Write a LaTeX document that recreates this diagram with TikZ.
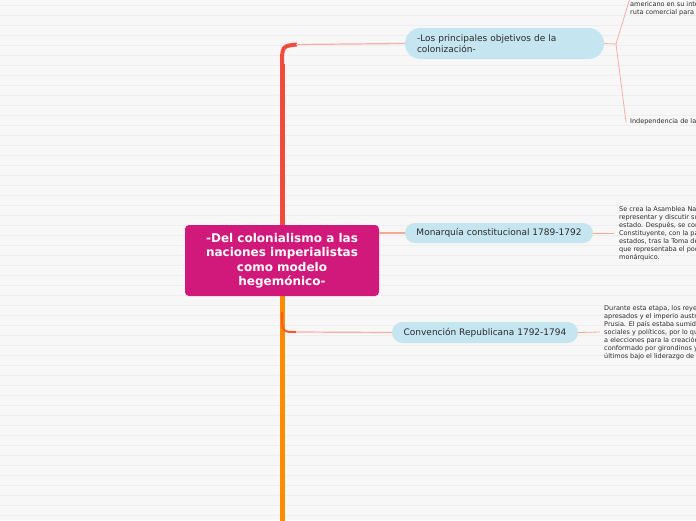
\documentclass[tikz,border=0pt]{standalone}
\usepackage{fontspec}
\setmainfont{DejaVu Sans}
\setsansfont{DejaVu Sans}
\definecolor{bgc}{HTML}{F7F7F7}
\definecolor{stripe}{HTML}{EEEEEE}
\definecolor{central}{HTML}{D1197B}
\definecolor{topicblue}{HTML}{C5E5F0}
\definecolor{trunkred}{HTML}{F04B3C}
\definecolor{trunkorange}{HTML}{FF8C00}
\definecolor{thinpink}{HTML}{F5AFA8}
\definecolor{salmon}{HTML}{F6A98E}
\definecolor{txt}{HTML}{2B2B2B}
\tikzset{
  centralbox/.style={fill=central, rounded corners=4pt, minimum width=194pt, minimum height=71pt,
    text=white, font=\fontsize{12}{14.5}\selectfont\bfseries, align=center, inner sep=0pt},
  topicbox/.style={fill=topicblue, text=txt, font=\fontsize{9}{11}\selectfont, inner sep=0pt},
  smalltext/.style={text=txt, font=\fontsize{6.5}{8}\selectfont, align=left, inner sep=0pt},
  thinline/.style={draw=thinpink, line width=1.2pt},
  salmonline/.style={draw=salmon, line width=1.2pt}
}
\begin{document}
\begin{tikzpicture}[x=1pt,y=-1pt]
\useasboundingbox (0,0) rectangle (696,520);
\clip (0,0) rectangle (696,520);
\fill[bgc] (0,0) rectangle (696,520);
\foreach \k in {0,...,51} {
  \draw[stripe, line width=0.7pt] (0,5+10*\k) -- (696,5+10*\k);
}
% trunk
\draw[trunkorange, line width=5pt] (282,285) -- (282,522);
\draw[trunkred, line width=5pt] (282,240) -- (282,64);
\draw[trunkred, line width=4pt] (282,66) .. controls (282,46) .. (297,44.5);
\draw[trunkred!70!orange, line width=2pt] (282,312) .. controls (282,332) .. (296,332);
% nodes
\node[centralbox] (c) at (282,260.5) {-Del colonialismo a las\\naciones imperialistas\\como modelo\\hegemónico-};
\node[topicbox, minimum width=199pt, minimum height=31pt, rounded corners=15.5pt, text width=175pt, align=left] (n1) at (504.5,43.5) {-Los principales objetivos de la\\colonización-};
\node[topicbox, minimum width=188pt, minimum height=20pt, rounded corners=10pt] (n2) at (499,233) {Monarquía constitucional 1789-1792};
\node[topicbox, minimum width=186pt, minimum height=21pt, rounded corners=10.5pt] (n3) at (485,332.5) {Convención Republicana 1792-1794};
% connectors
\draw[thinline] (296,44.5) -- (n1.west);
\draw[salmonline] (n2.west) -- (n2.west -| c.east);
\draw[thinline] (296,332) -- (n3.west);
\coordinate (j1) at (616,44);
\coordinate (t1) at (630,-2);
\coordinate (t2) at (626,122);
\draw[thinline, line width=0.8pt] (n1.east) -- (j1) -- (t1);
\draw[thinline, line width=0.8pt] (j1) -- (t2);
\coordinate (j2) at (614,233);
\coordinate (j3) at (600,332);
\draw[salmonline, line width=0.8pt] (n2.east) -- (j2);
\draw[salmonline, line width=0.8pt] (n3.east) -- (j3);
% texts
\node[smalltext, anchor=south west] (s1) at (630,16) {americano en su inte\\ruta comercial para};
\node[smalltext, anchor=west] (s2) at (630,122) {Independencia de la};
\node[smalltext, anchor=north west] (s3) at (619,206) {Se crea la Asamblea Na\\representar y discutir su\\estado. Después, se con\\Constituyente, con la pa\\estados, tras la Toma de\\que representaba el pod\\monárquico.};
\node[smalltext, anchor=north west] (s4) at (604,305) {Durante esta etapa, los reye\\apresados y el imperio austr\\Prusia. El país estaba sumid\\sociales y políticos, por lo qu\\a elecciones para la creación\\conformado por girondinos y\\últimos bajo el liderazgo de};
\end{tikzpicture}
\end{document}
